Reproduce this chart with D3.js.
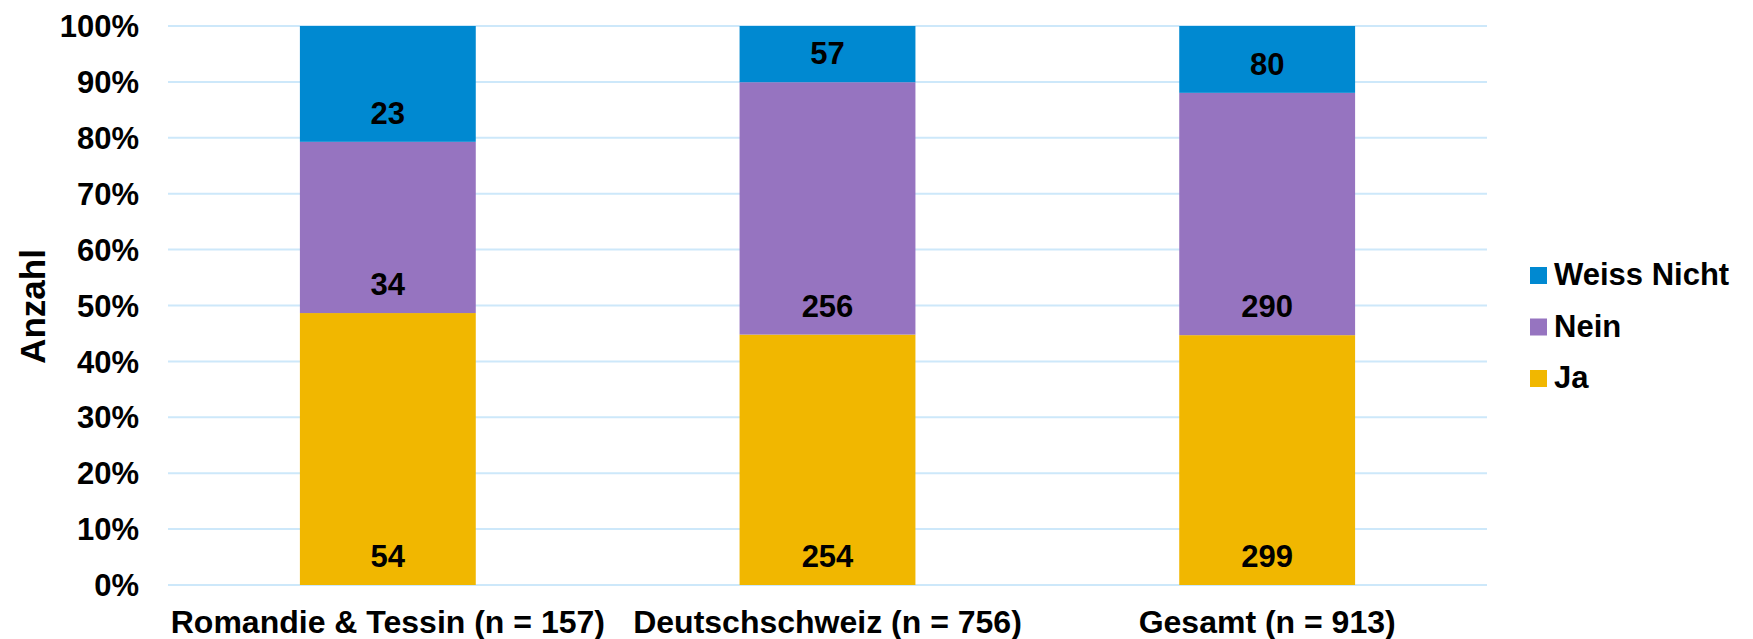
<!DOCTYPE html>
<meta charset="utf-8">
<style>
body { margin: 0; background: #fff; }
svg text { font-family: "Liberation Sans", Arial, Helvetica, sans-serif; font-weight: bold; fill: #000; }
</style>
<svg width="1753" height="639"></svg>
<script src="https://cdn.jsdelivr.net/npm/d3@7"></script>
<script>

// categories on the x axis
var categories = ["Romandie & Tessin (n = 157)", "Deutschschweiz (n = 756)", "Gesamt (n = 913)"];
// series (bottom to top) and their counts
var seriesNames = ["Ja", "Nein", "Weiss Nicht"];
var ja = [54, 254, 299];
var nein = [34, 256, 290];
var weissNicht = [23, 57, 80];
var yTicks = [0, 0.1, 0.2, 0.3, 0.4, 0.5, 0.6, 0.7, 0.8, 0.9, 1];

var colors = {"Ja": "#f1b700", "Nein": "#9674c0", "Weiss Nicht": "#0089d1"};

var rows = categories.map(function(c, i) {
  return {cat: c, "Ja": ja[i], "Nein": nein[i], "Weiss Nicht": weissNicht[i]};
});

var svg = d3.select("svg"),
    margin = {top: 26, right: 266, bottom: 54, left: 168},
    width = +svg.attr("width") - margin.left - margin.right,
    height = +svg.attr("height") - margin.top - margin.bottom,
    g = svg.append("g").attr("transform", "translate(" + margin.left + "," + margin.top + ")");

var stacked = d3.stack().keys(seriesNames).offset(d3.stackOffsetExpand)(rows);

var x = d3.scaleBand().domain(categories)
    .range([0, width])
    .paddingInner(0.6)
    .paddingOuter(0.3);

var y = d3.scaleLinear().domain([0, 1]).range([height, 0]);

// gridlines
g.selectAll(".grid")
  .data(yTicks)
  .enter().append("line")
    .attr("x1", 0)
    .attr("x2", width)
    .attr("y1", function(d) { return y(d); })
    .attr("y2", function(d) { return y(d); })
    .attr("stroke", "#cde8fa")
    .attr("stroke-width", 2);

// y tick labels
g.selectAll(".ytick")
  .data(yTicks)
  .enter().append("text")
    .attr("x", -29)
    .attr("y", function(d) { return y(d); })
    .attr("dy", "0.36em")
    .attr("text-anchor", "end")
    .style("font-size", "31px")
    .text(d3.format(".0%"));

// bars
var series = g.selectAll(".series")
  .data(stacked)
  .enter().append("g")
    .attr("fill", function(d) { return colors[d.key]; });

series.selectAll("rect")
  .data(function(d) { return d; })
  .enter().append("rect")
    .attr("x", function(d) { return x(d.data.cat); })
    .attr("y", function(d) { return y(d[1]); })
    .attr("width", x.bandwidth())
    .attr("height", function(d) { return y(d[0]) - y(d[1]); });

// value labels, near the base of each segment
series.selectAll(".val")
  .data(function(d) { return d.map(function(p) { return {p: p, key: d.key}; }); })
  .enter().append("text")
    .attr("x", function(d) { return x(d.p.data.cat) + x.bandwidth() / 2; })
    .attr("y", function(d) { return y(d.p[0]) - 18; })
    .attr("text-anchor", "middle")
    .style("font-size", "31px")
    .text(function(d) { return d.p.data[d.key]; });

// x labels
g.selectAll(".xlab")
  .data(categories)
  .enter().append("text")
    .attr("x", function(d) { return x(d) + x.bandwidth() / 2; })
    .attr("y", height + 48)
    .attr("text-anchor", "middle")
    .style("font-size", "32px")
    .text(function(d) { return d; });

// y axis title
svg.append("text")
  .attr("transform", "translate(45," + (margin.top + height / 2 + 1) + ") rotate(-90)")
  .attr("text-anchor", "middle")
  .style("font-size", "35px")
  .text("Anzahl");

// legend, top entry is the top series
var legend = svg.append("g")
    .attr("transform", "translate(1530,267)")
  .selectAll("g")
  .data(seriesNames.slice().reverse())
  .enter().append("g")
    .attr("transform", function(d, i) { return "translate(0," + (i * 51.5) + ")"; });

legend.append("rect")
    .attr("width", 17)
    .attr("height", 17)
    .attr("fill", function(d) { return colors[d]; });

legend.append("text")
    .attr("x", 24)
    .attr("y", 18)
    .style("font-size", "31px")
    .text(function(d) { return d; });

</script>
